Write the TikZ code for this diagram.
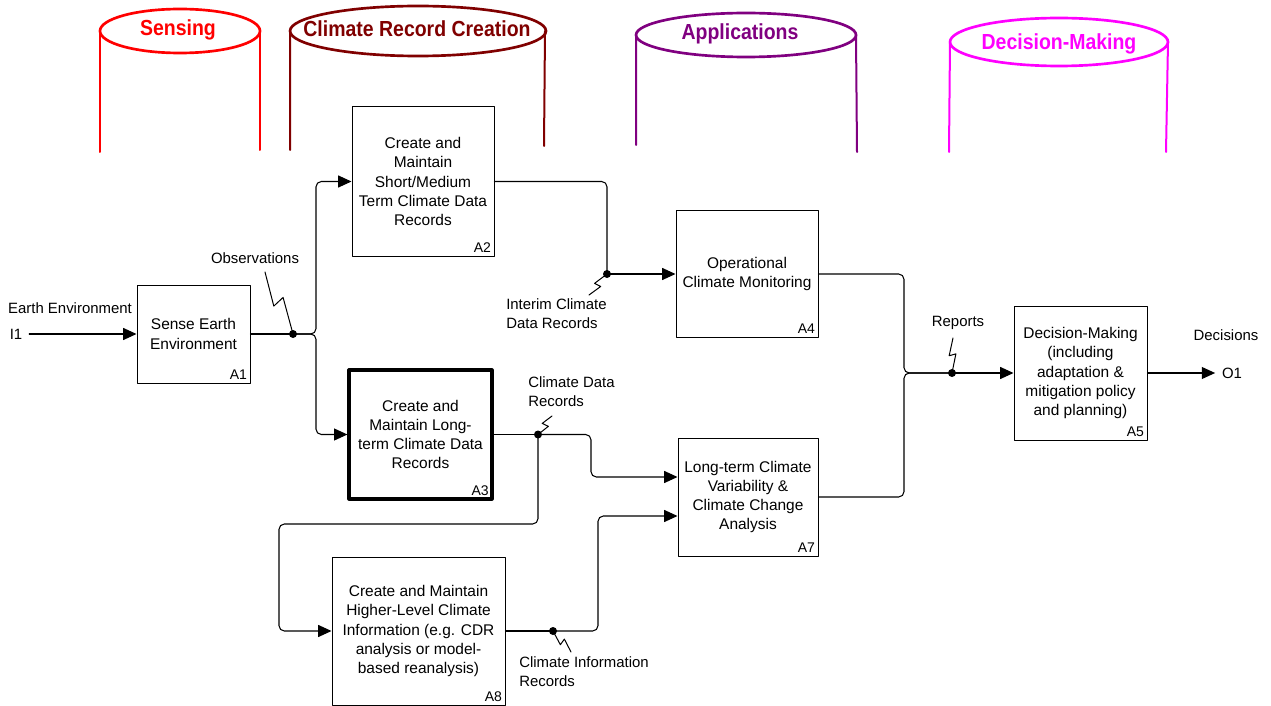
\documentclass[tikz,border=0pt]{standalone}
\usepackage{fontspec}
\setmainfont{Liberation Sans}
\usetikzlibrary{calc,arrows.meta}
\definecolor{senred}{RGB}{255,0,0}
\definecolor{crcred}{RGB}{128,0,0}
\definecolor{apppurple}{RGB}{128,0,128}
\definecolor{decmag}{RGB}{255,0,255}
\tikzset{
  activity/.style={draw, line width=0.75pt, align=center, inner sep=1pt,
    font=\fontsize{11.6}{14.4}\selectfont},
  boxid/.style={anchor=south east, inner sep=2.5pt, font=\fontsize{10.5}{12}\selectfont},
  flow/.style={line width=0.8pt, rounded corners=4pt},
  tip/.style={-{Triangle[length=10pt,width=9pt]}},
  lbl/.style={inner sep=0pt, font=\fontsize{11.2}{14.2}\selectfont},
  port/.style={inner sep=5pt, font=\fontsize{11.2}{14.2}\selectfont},
  joint/.style={circle, fill, inner sep=0pt, minimum size=6pt},
  title/.style={font=\fontsize{14.6}{17}\selectfont\bfseries},
}
% lightning-shaped label connector
\newcommand{\squig}[3][2.5pt]{\draw[line width=0.75pt] (#2) -- ($(#2)!0.55!(#3)!#1!-90:(#3)$) -- ($(#2)!0.49!(#3)!#1!90:(#3)$) -- (#3);}

\begin{document}
\begin{tikzpicture}[x=0.75pt, y=-0.75pt, line join=round, line cap=round]
	\useasboundingbox (0,0) rectangle (1271,706);

	% phase columns
	\draw[senred, line width=2pt] (180,31) ellipse (80 and 22);
	\draw[senred, line width=1.5pt] (100,31) -- (100,152) (260,31) -- (260,150);
	\node[title, senred] (sensing) at (178,30) {\scalebox{1}[1.12]{Sensing}};

	\draw[crcred, line width=2pt] (418,31) ellipse (128 and 25);
	\draw[crcred, line width=1.5pt] (290,31) -- (290,150) (545,31) -- (544,146);
	\node[title, crcred] (crc) at (417,29) {\scalebox{1}[1.12]{Climate Record Creation}};

	\draw[apppurple, line width=2pt] (746,35) ellipse (110 and 22);
	\draw[apppurple, line width=1.5pt] (636,35) -- (636,145) (856,35) -- (857,152);
	\node[title, apppurple] (apps) at (740,34) {\scalebox{1}[1.12]{Applications}};

	\draw[decmag, line width=2pt] (1059,42) ellipse (109 and 24);
	\draw[decmag, line width=1.5pt] (950,42) -- (949,152) (1168,42) -- (1166,152);
	\node[title, decmag] (decm) at (1059,44) {\scalebox{1}[1.12]{Decision-Making}};

	% activities
	\node[activity, minimum width=84.75pt, minimum height=73.5pt] (A1) at (193.5,334) {Sense Earth\\Environment};
	\node[boxid] at (A1.south east) {A1};
	\node[activity, minimum width=106.5pt, minimum height=111.75pt] (A2) at (423,181.5) {Create and\\Maintain\\Short/Medium\\Term Climate Data\\Records};
	\node[boxid] at (A2.south east) {A2};
	\node[activity, line width=2.4pt, minimum width=107.25pt, minimum height=96.75pt] (A3) at (420.5,434.5) {Create and\\Maintain Long-\\term Climate Data\\Records};
	\node[boxid] at ([shift={(-1pt,1pt)}]A3.south east) {A3};
	\node[activity, minimum width=106.5pt, minimum height=94.5pt] (A4) at (747,274) {Operational\\Climate Monitoring};
	\node[boxid] at (A4.south east) {A4};
	\node[activity, minimum width=105pt, minimum height=88.5pt] (A7) at (748,497) {Long-term Climate\\Variability \&\\Climate Change\\Analysis};
	\node[boxid] at (A7.south east) {A7};
	\node[activity, minimum width=129.75pt, minimum height=111pt] (A8) at (418.5,631) {Create and Maintain\\Higher-Level Climate\\Information (e.g. CDR\\analysis or model-\\based reanalysis)};
	\node[boxid] at (A8.south east) {A8};
	\node[activity, minimum width=99.75pt, minimum height=100.5pt] (A5) at (1080.5,373) {Decision-Making\\(including\\adaptation \&\\mitigation policy\\and planning)};
	\node[boxid] at (A5.south east) {A5};

	% ports and labels
	\node[port] (I1) at (16,334) {I1};
	\node[port] (O1) at (1232,373) {O1};
	\node[lbl] (earth) at (70,308) {Earth Environment};
	\node[lbl] (decisions) at (1226,335) {Decisions};
	\node[lbl] (observations) at (255,258) {Observations};
	\node[lbl, align=left, anchor=west] (interim) at (506,313.5) {Interim Climate\\Data Records};
	\node[lbl, align=left, anchor=west] (cdrlbl) at (528,391.5) {Climate Data\\Records};
	\node[lbl, align=left, anchor=west] (cirlbl) at (519,672) {Climate Information\\Records};
	\node[lbl] (reports) at (958,323) {Reports};

	% joints
	\node[joint] (obs) at (293,334) {};
	\node[joint] (icdr) at (607,274) {};
	\node[joint] (cdr) at (538,434.5) {};
	\node[joint] (cir) at (553,631) {};
	\node[joint] (rep) at (952,373) {};
	\coordinate (jn) at (904,373);

	% flows
	\draw[flow, tip] (I1.east) -- (A1.west);
	\draw[flow] (A1.east) -- (obs.center);
	\draw[flow, tip] (obs.center) -- (316,334) |- (A2.west);
	\draw[flow, tip] (obs.center) -- (316,334) |- (A3.west);
	\draw[flow] (A2.east) -| (icdr.center);
	\draw[flow, tip] (icdr.center) -- (A4.west);
	\draw[flow] (A4.east) -| (jn) -- (rep.center);
	\draw[flow] (A7.east) -| (jn) -- (rep.center);
	\draw[flow, tip] (rep.center) -- (A5.west);
	\draw[flow, tip] (A5.east) -- (O1.west);
	\draw[flow] (A3.east) -- (cdr.center);
	\draw[flow, tip] (cdr.center) -- (591,434.5) |- ($(A7.west)+(0,-20)$);
	\draw[flow, tip] (cdr.center) -- (538,524) -- (279,524) |- (A8.west);
	\draw[flow] (A8.east) -- (cir.center);
	\draw[flow, tip] (cir.center) -- (598,631) |- ($(A7.west)+(0,19)$);

	% label squiggles
	\coordinate (obsend) at (265,272);
	\coordinate (icdrend) at (589,295);
	\coordinate (cdrend) at (552,416);
	\coordinate (cirend) at (571,652);
	\coordinate (repend) at (953,338);
	\squig[4.5pt]{obs.center}{obsend}
	\squig{icdr.center}{icdrend}
	\squig{cdr.center}{cdrend}
	\squig{cir.center}{cirend}
	\squig{rep.center}{repend}
\end{tikzpicture}
\end{document}
